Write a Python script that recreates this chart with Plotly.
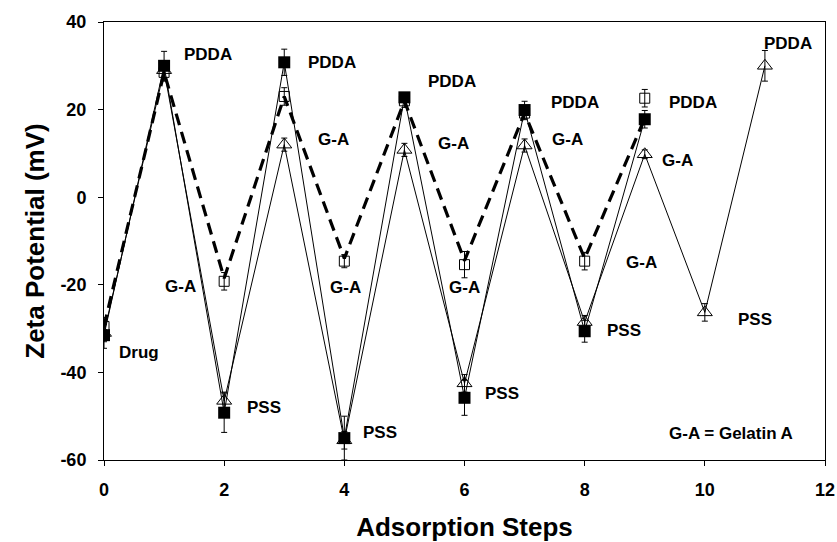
import plotly.graph_objects as go

# Zeta potential after each adsorption step (mV)
steps_a = [0, 1, 2, 3, 4, 5, 6, 7, 8, 9]
filled_sq = [-31.5, 30, -49.2, 30.8, -55, 22.8, -45.8, 19.9, -30.6, 17.8]
filled_sq_err = [3, 3.3, 4.5, 3, 5, 1, 4, 2, 2.5, 2]

steps_b = [0, 1, 2, 3, 4, 5, 6, 7, 8, 9, 10, 11]
triangle = [-31, 29, -46.5, 12, -55.5, 10.8, -42.5, 11.8, -28.5, 9.8, -26.3, 30]
triangle_err = [2, 2, 2, 1.5, 2, 1.5, 2, 1.5, 1.5, 1, 2, 3.5]

open_sq = [-29.5, 28.5, -19.2, 23, -14.6, 22, -15.4, 19.2, -14.6, 22.6]
open_sq_err = [2, 2, 2, 2, 1.5, 1.5, 3, 1.5, 2, 2]
dashed_trend = [-29.5, 28.5, -18.5, 23, -14, 22, -14.5, 19.2, -14, 18]

x_ticks = [0, 2, 4, 6, 8, 10, 12]
y_ticks = [-60, -40, -20, 0, 20, 40]

# Layer labels: (text, step, zeta)
labels = [
    ("PDDA", 1.73, 32.6), ("PDDA", 3.8, 30.8), ("PDDA", 5.8, 26.5),
    ("PDDA", 7.84, 21.7), ("PDDA", 9.8, 21.7), ("PDDA", 11.38, 35.2),
    ("G-A", 1.28, -20.5), ("G-A", 3.82, 13.2), ("G-A", 4.02, -20.7),
    ("G-A", 5.82, 12.3), ("G-A", 6.0, -20.7), ("G-A", 7.72, 13.2),
    ("G-A", 8.94, -14.8), ("G-A", 9.54, 8.4),
    ("Drug", 0.58, -35.4),
    ("PSS", 2.67, -48), ("PSS", 4.6, -53.7), ("PSS", 6.62, -44.8),
    ("PSS", 8.66, -30.4), ("PSS", 10.84, -28),
    ("G-A = Gelatin A", 10.44, -53.9),
]

FONT = "Liberation Sans, Arial, sans-serif"
err_style = dict(type="data", thickness=1, width=3, color="black")

fig = go.Figure()

fig.add_trace(go.Scatter(
    x=steps_a, y=dashed_trend, mode="lines",
    line=dict(color="black", width=3.2, dash="12px,7px"),
    hoverinfo="skip", showlegend=False,
))
fig.add_trace(go.Scatter(
    x=steps_a, y=open_sq, mode="markers",
    marker=dict(symbol="square-open", size=10, color="black", line=dict(width=1)),
    error_y=dict(array=open_sq_err, **err_style), showlegend=False,
))
fig.add_trace(go.Scatter(
    x=steps_b, y=triangle, mode="lines+markers",
    line=dict(color="black", width=1),
    marker=dict(symbol="triangle-up-open", size=13, color="black", line=dict(width=1)),
    error_y=dict(array=triangle_err, **err_style), showlegend=False,
))
fig.add_trace(go.Scatter(
    x=steps_a, y=filled_sq, mode="lines+markers",
    line=dict(color="black", width=1),
    marker=dict(symbol="square", size=12, color="black"),
    error_y=dict(array=filled_sq_err, **err_style), showlegend=False,
))

for text, xs, ys in labels:
    fig.add_annotation(
        x=xs, y=ys, text=text, showarrow=False,
        font=dict(family=FONT, size=17, color="black", weight="bold"),
    )

axis_common = dict(
    showline=True, linecolor="black", linewidth=1, mirror=True,
    ticks="outside", ticklen=5, tickcolor="black", showgrid=False, zeroline=False,
    ticklabelstandoff=8, automargin=False,
    tickfont=dict(family=FONT, size=18, color="black", weight="bold"),
)
title_font = dict(family=FONT, size=26, color="black", weight="bold")

fig.update_layout(
    width=837, height=542,
    margin=dict(l=104, r=12, t=22, b=82),
    paper_bgcolor="white", plot_bgcolor="white",
    xaxis=dict(range=[0, 12], tickvals=x_ticks, ticktext=[str(v) for v in x_ticks],
               title=dict(text="Adsorption Steps", standoff=22, font=title_font),
               **axis_common),
    yaxis=dict(range=[-60, 40], tickvals=y_ticks, ticktext=[str(v) for v in y_ticks],
               title=dict(text="Zeta Potential (mV)", standoff=8, font=title_font),
               **axis_common),
)

fig.write_html("out.html")
